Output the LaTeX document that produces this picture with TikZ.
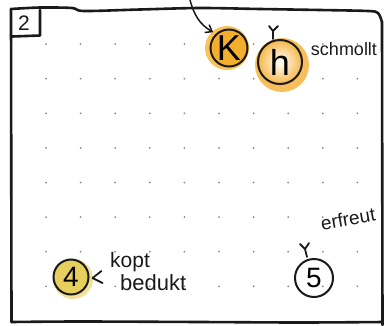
\documentclass[tikz,border=0pt]{standalone}
\usepackage{fontspec}
\setmainfont{Liberation Sans}
\usetikzlibrary{arrows.meta}
\definecolor{ink}{HTML}{1A1A1A}
\definecolor{dotc}{HTML}{8A8A8A}
\definecolor{orangeK}{HTML}{F4AE2E}
\definecolor{glowK}{HTML}{F8C45A}
\definecolor{glowH}{HTML}{F6B84A}
\definecolor{yellow4}{HTML}{E6CF5C}
\definecolor{glow4}{HTML}{F1E29A}
\tikzset{
  frame/.style={draw=ink, line width=2.6pt, line cap=round, line join=round},
  bub/.style={circle, draw=ink, line width=2pt, inner sep=0pt},
  hand/.style={ink, inner sep=0pt},
  tick/.style={draw=ink, line width=1.8pt, line cap=round, line join=round},
  griddot/.style={fill=dotc}
}
\begin{document}
\begin{tikzpicture}[x=1pt,y=-1pt]
\useasboundingbox (0,0) rectangle (384,325);
% dots
\foreach \i in {0,...,9}{
  \foreach \j in {1,...,8}{
    \fill[griddot] (46+34.6*\i, 9.5+34.6*\j) circle (1pt);
  }
}
% frame
\draw[frame] plot[smooth] coordinates {(11,9) (40,7.5) (72,8) (84,11) (140,9.5) (200,8) (260,9) (320,10) (368,11) (378,13) (382,22)};
\draw[frame] (382,22) -- (382.5,325);
\draw[frame] (11,9) -- (11.5,322);
\draw[frame] plot[smooth] coordinates {(11.5,322) (80,321.5) (200,322) (300,322.5) (384,322)};
% label box
\draw[frame] (40,10) -- (40,35.5) -- (12,36.5);
\node[hand, font=\fontsize{21}{21}\selectfont] (lbl) at (24,23) {2};
% glows
\fill[glowK] (227,48) circle (22pt);
\fill[glowH, opacity=0.9] (282,65) circle (27pt);
\fill[glow4] (73,279) circle (20pt);
% bubbles
\node[bub, fill=orangeK, minimum size=37pt, font=\fontsize{36}{36}\selectfont] (K) at (229,48) {K};
\node[bub, shading=radial, inner color=white, outer color=glowH, minimum size=44pt, font=\fontsize{36}{36}\selectfont] (h) at (280,62) {h};
\node[bub, fill=yellow4, minimum size=35pt, font=\fontsize{28}{28}\selectfont] (n4) at (71,277) {4};
\node[bub, minimum size=38pt, font=\fontsize{28}{28}\selectfont] (n5) at (314,278) {5};
% texts
\node[hand, font=\fontsize{18}{18}\selectfont] (t1) at (344,49) {schmollt};
\node[hand, font=\fontsize{19}{19}\selectfont, rotate=10] (t2) at (348,219) {erfreut};
\node[hand, font=\fontsize{21}{21}\selectfont, anchor=west] (t3) at (110,262) {kopt};
\node[hand, font=\fontsize{22}{22}\selectfont, anchor=west] (t4) at (120,283) {bedukt};
% arrow
\coordinate (src) at (190,0);
\draw[ink, line width=1.5pt, -{Straight Barb[length=6pt,width=9pt]}] (src) to[out=-75,in=150] ([xshift=-2pt,yshift=2pt]K.north west);
% ticks
\draw[tick] (h.north) ++(-7pt,0) -- ++(0,8pt) coordinate (hy) -- ++(-4pt,5pt);
\draw[tick] (hy) -- ++(5pt,5pt);
\draw[tick] (n5.north) ++(-7pt,1pt) -- ++(-2pt,8pt) coordinate (fy) -- ++(-5pt,5pt);
\draw[tick] (fy) -- ++(4pt,6pt);
\draw[tick] ([xshift=12pt,yshift=6pt]n4.east) -- ([xshift=3pt,yshift=-1pt]n4.east) -- ([xshift=13pt,yshift=-6pt]n4.east);
\end{tikzpicture}
\end{document}
